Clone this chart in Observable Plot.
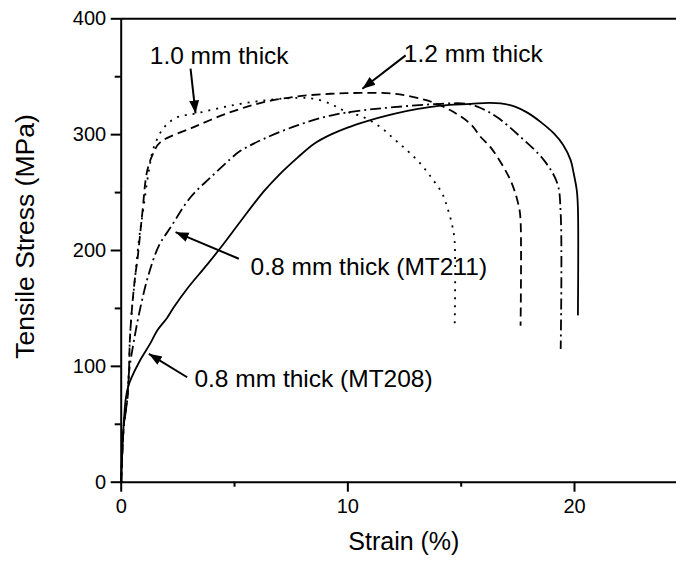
<!DOCTYPE html>
<html>
<head>
<meta charset="utf-8">
<script src="https://cdn.jsdelivr.net/npm/d3@7"></script>
<script src="https://cdn.jsdelivr.net/npm/@observablehq/plot@0.6"></script>
<style>
  html, body { margin: 0; padding: 0; background: #fff; }
  #chart { width: 676px; height: 562px; }
</style>
</head>
<body>
<div id="chart"></div>
<script>
// ---- data (strain %, stress MPa) ----
const mt208Strain = [0, 0.04, 0.11, 0.2, 0.3, 0.45, 0.8, 1.29, 1.59, 2.03, 2.32, 2.91, 3.8, 4.53, 5.26, 6.29, 7.0, 7.77, 8.5, 9.24, 10.12, 10.56, 12.03, 14.09, 15.42, 16.2, 16.74, 17.4, 17.92, 18.5, 19.09, 19.5, 19.83, 19.97, 20.1, 20.15, 20.15];
const mt208Stress = [0, 22, 50, 72, 82, 90, 104, 120, 131, 142, 151, 167, 188, 206, 225, 251, 266, 280, 292, 300, 307, 310, 318, 325, 326.5, 327.5, 327, 324, 319, 311, 301, 291, 278, 266, 252, 237, 144];

const mt211Strain = [0, 0.1, 0.26, 0.34, 0.56, 0.85, 1.22, 1.66, 2.18, 3.06, 3.94, 4.82, 5.26, 6.29, 7.77, 9.24, 10.56, 12.03, 14.09, 15.27, 15.86, 16.59, 17.62, 18.65, 19.24, 19.39, 19.39];
const mt211Stress = [0, 45, 70, 94, 122, 151, 180, 204, 220, 246, 263, 279, 286, 296.4, 308, 316.5, 320.8, 323.7, 326.6, 326.6, 323, 315, 298, 278, 258, 232, 115];

const t10Strain = [0, 0.12, 0.26, 0.34, 0.38, 0.48, 0.63, 0.78, 0.95, 1.22, 1.44, 1.88, 2.47, 3.35, 4.82, 6.29, 7.77, 8.5, 9.24, 9.82, 10.7, 11.44, 12.03, 12.62, 13.21, 13.72, 14.17, 14.39, 14.6, 14.71, 14.71];
const t10Stress = [0, 50, 70, 94, 122, 151, 180, 209, 232, 269, 289, 306, 315, 318.5, 325, 329.5, 331.8, 331, 326.6, 320.8, 315, 306.4, 296.4, 286.3, 274.8, 262, 249, 237, 222, 208, 132];

const t12Strain = [0, 0.12, 0.26, 0.34, 0.38, 0.48, 0.63, 0.71, 0.93, 1.15, 1.44, 1.73, 3.2, 4.82, 6.29, 7.77, 9.24, 10.56, 12.03, 13.5, 14.53, 15.42, 15.86, 16.3, 17.18, 17.55, 17.62, 17.62];
const t12Stress = [0, 50, 70, 94, 122, 151, 180, 191, 232, 269, 285, 293.5, 306.5, 319.4, 328, 333, 335.3, 336, 335.3, 329.5, 321, 309, 298, 289, 260.4, 237.4, 226, 135];

const xTicks = [0, 10, 20];
const xMinorTicks = [5, 15];
const yTicks = [0, 100, 200, 300, 400];
const yMinorTicks = [50, 150, 250, 350];

const labelText = ["1.0 mm thick", "1.2 mm thick", "0.8 mm thick (MT211)", "0.8 mm thick (MT208)"];
const labelX = [1.26, 12.47, 5.71, 3.23];
const labelY = [367.9, 369.3, 185.8, 89.3];

const arrowX1 = [3.06, 12.55, 5.19, 2.91];
const arrowY1 = [357, 368.4, 192.9, 90.6];
const arrowX2 = [3.28, 10.64, 2.40, 1.22];
const arrowY2 = [318.3, 339.6, 215.8, 110.8];

// ---- build tables ----
const series = [
  {name: "MT208", xs: mt208Strain, ys: mt208Stress, dash: null},
  {name: "MT211", xs: mt211Strain, ys: mt211Stress, dash: "11,4,2,4"},
  {name: "1.0", xs: t10Strain, ys: t10Stress, dash: "2,6"},
  {name: "1.2", xs: t12Strain, ys: t12Stress, dash: "9,5"}
];
const labels = labelText.map((t, i) => ({t, x: labelX[i], y: labelY[i]}));
const arrows = arrowX1.map((_, i) => ({x1: arrowX1[i], y1: arrowY1[i], x2: arrowX2[i], y2: arrowY2[i]}));

const font = "'Liberation Sans', Arial, Helvetica, sans-serif";

const lineMarks = series.map(s => Plot.line(s.xs.map((x, i) => ({x, y: s.ys[i]})), {
  x: "x", y: "y", stroke: "black", strokeWidth: 1.8, curve: "catmull-rom",
  strokeDasharray: s.dash || undefined,
  strokeLinecap: "butt", strokeLinejoin: "round"
}));

const chart = Plot.plot({
  width: 676,
  height: 562,
  marginLeft: 120.7,
  marginRight: 0,
  marginTop: 18.3,
  marginBottom: 80.3,
  style: {fontFamily: font, fontSize: "20px", background: "#fff", color: "black"},
  x: {domain: [0, 24.5]},
  y: {domain: [0, 400]},
  marks: [
    // frame lines
    Plot.ruleY([0, 400], {stroke: "black", strokeWidth: 2}),
    Plot.ruleX([0], {stroke: "black", strokeWidth: 2}),
    // axes
    Plot.axisY(yTicks, {tickSize: 10, tickPadding: 5, strokeWidth: 2, fontSize: 20, label: null}),
    Plot.axisY(yMinorTicks, {tickSize: 6, strokeWidth: 2, tickFormat: () => "", label: null}),
    Plot.axisX(xTicks, {tickSize: 10, tickPadding: 7, strokeWidth: 2, fontSize: 20, label: null}),
    Plot.axisX(xMinorTicks, {tickSize: 5, strokeWidth: 2, tickFormat: () => "", label: null}),
    // axis titles
    Plot.text(["Strain (%)"], {frameAnchor: "bottom", dx: 5, dy: 60, fontSize: 25, lineAnchor: "middle", fill: "black"}),
    Plot.text(["Tensile Stress (MPa)"], {frameAnchor: "left", textAnchor: "middle", dx: -96, dy: -14, rotate: -90, fontSize: 26.5, lineAnchor: "middle", fill: "black"}),
    // curves
    ...lineMarks,
    // annotations
    Plot.link(arrows, {x1: "x1", y1: "y1", x2: "x2", y2: "y2", stroke: "black", strokeWidth: 2, markerEnd: "arrow"}),
    Plot.text(labels, {x: "x", y: "y", text: "t", textAnchor: "start", lineAnchor: "middle", fontSize: 24.5, fill: "black"})
  ]
});

// make arrowheads filled triangles
chart.querySelectorAll("marker").forEach(m => {
  m.setAttribute("viewBox", "-10 -5 10 10");
  m.setAttribute("markerWidth", "6.5");
  m.setAttribute("markerHeight", "6.5");
  m.setAttribute("refX", "0");
  m.setAttribute("refY", "0");
  m.setAttribute("fill", "black");
  m.setAttribute("stroke", "none");
  while (m.firstChild) m.removeChild(m.firstChild);
  const p = document.createElementNS("http://www.w3.org/2000/svg", "path");
  p.setAttribute("d", "M-10,-3.8L0,0L-10,3.8Z");
  m.appendChild(p);
});

document.getElementById("chart").appendChild(chart);
</script>
</body>
</html>
